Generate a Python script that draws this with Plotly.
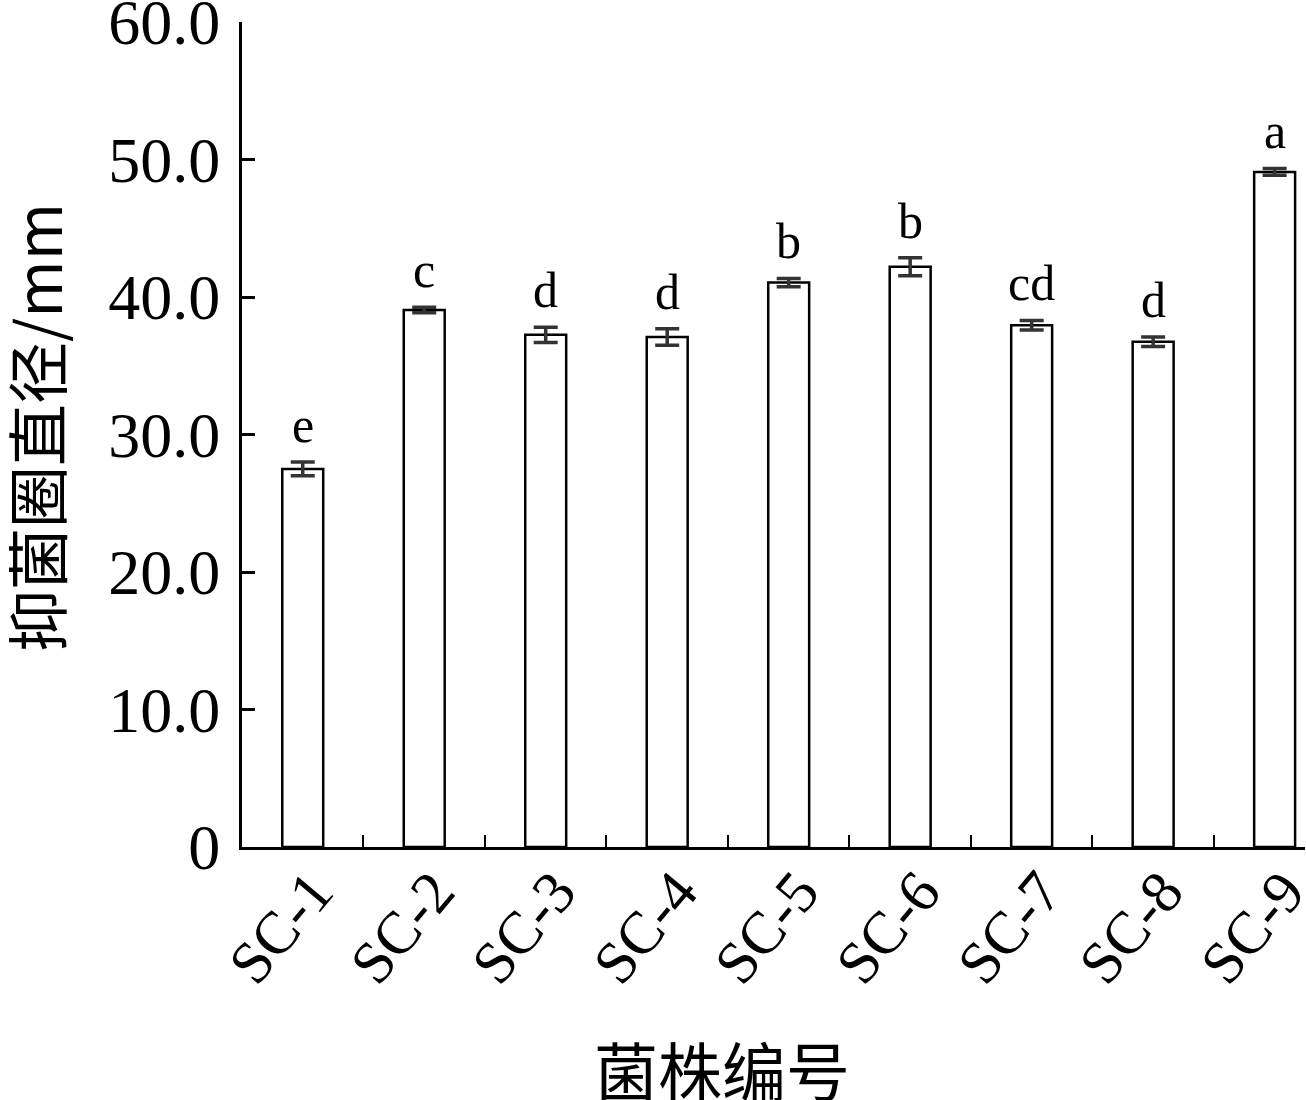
import plotly.graph_objects as go

strains = ["SC-1", "SC-2", "SC-3", "SC-4", "SC-5", "SC-6", "SC-7", "SC-8", "SC-9"]
diameters = [27.5, 39.05, 37.25, 37.1, 41.05, 42.2, 37.95, 36.75, 49.1]
errors = [0.5, 0.2, 0.55, 0.6, 0.3, 0.65, 0.35, 0.35, 0.25]
sig_letters = ["e", "c", "d", "d", "b", "b", "cd", "d", "a"]

ytick_vals = [0, 10, 20, 30, 40, 50, 60]
ytick_text = ["0", "10.0", "20.0", "30.0", "40.0", "50.0", "60.0"]

serif = "Liberation Serif, Times New Roman, Noto Sans CJK SC, serif"
cjk = "Noto Sans CJK SC, Liberation Serif, sans-serif"

fig = go.Figure()
fig.add_trace(go.Bar(
    x=strains, y=diameters,
    width=0.337,
    marker=dict(color="white", line=dict(color="black", width=2.5)),
    error_y=dict(type="data", array=errors, visible=True,
                 color="#333333", thickness=3.5, width=12),
    showlegend=False,
))

for s, v, e, t in zip(strains, diameters, errors, sig_letters):
    fig.add_annotation(x=s, y=v + e, xref="x", yref="y", text=t,
                       showarrow=False, yanchor="bottom", yshift=7,
                       font=dict(family=serif, size=50, color="black"))

fig.add_annotation(xref="paper", yref="paper", x=0.4516, y=-0.268,
                   text="菌株编号", showarrow=False,
                   xanchor="center", yanchor="middle",
                   font=dict(family=cjk, size=64, color="black"))
fig.add_annotation(xref="paper", yref="paper", x=-0.1947, y=0.508,
                   text="抑菌圈直径/mm", showarrow=False, textangle=-90,
                   xanchor="center", yanchor="middle",
                   font=dict(family=cjk, size=62, color="black"))

fig.update_layout(
    width=1306, height=1100,
    margin=dict(l=242, r=1, t=22, b=253, autoexpand=False),
    paper_bgcolor="white", plot_bgcolor="white",
    font=dict(family=serif, color="black"),
    bargap=0.66,
)
fig.update_xaxes(
    range=[-0.5, 8.25], automargin=False,
    showline=True, linecolor="black", linewidth=3,
    ticks="inside", ticklen=12, tickwidth=2, tickcolor="black",
    tickson="boundaries", tickangle=-50,
    tickfont=dict(family=serif, size=60, color="black"),
    ticklabeloverflow="allow", ticklabelstandoff=-18, ticklabelshift=10,
    showgrid=False, zeroline=False,
)
fig.update_yaxes(
    range=[0, 60.001], automargin=False,
    tickmode="array", tickvals=ytick_vals, ticktext=ytick_text,
    showline=True, linecolor="black", linewidth=3,
    ticks="inside", ticklen=13, tickwidth=3, tickcolor="black",
    tickfont=dict(family=serif, size=64, color="black"),
    ticklabelstandoff=6, ticklabeloverflow="allow",
    showgrid=False, zeroline=False,
)

fig.write_html("out.html", config={"displayModeBar": False},
               post_script="document.body.style.margin='0px';document.body.style.overflow='hidden';")
